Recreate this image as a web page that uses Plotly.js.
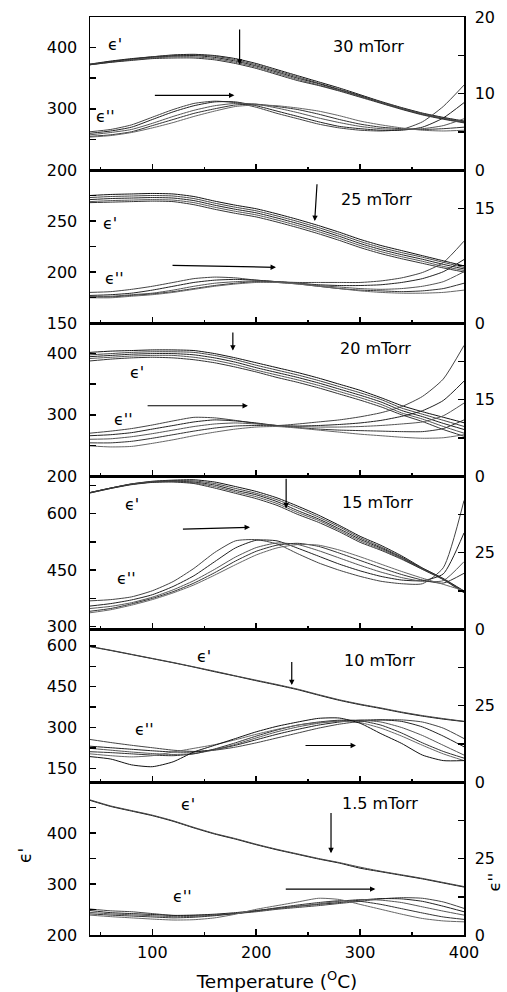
<!DOCTYPE html>
<html><head><meta charset="utf-8">
<script src="https://cdn.plot.ly/plotly-3.0.1.min.js"></script>
<style>html,body{margin:0;padding:0;background:#fff}</style>
</head><body>
<div id="chart" style="width:507px;height:992px"></div>
<script>
// Temperature grid (°C)
const T = [40,60,80,100,120,140,160,180,200,220,240,260,280,300,320,340,360,380,400];

// 30 mTorr
const re30 = [
 [373,378,382,385,388,389,387,382,374,364,354,344,334,323,312,302,293,286,280],
 [373,377,381,385,387,388,386,380,372,362,352,342,332,322,311,301,292,285,279],
 [372,377,381,384,386,387,384,378,370,360,350,341,331,321,310,300,291,284,278],
 [372,376,380,383,385,385,382,376,368,358,348,339,330,320,310,300,291,284,278],
 [372,376,379,382,383,383,380,374,366,356,346,338,329,319,309,299,290,283,277]
];
const im30 = [
 [5.0,5.3,5.9,6.9,7.9,8.7,9.0,8.8,8.2,7.4,6.7,6.0,5.5,5.2,5.1,5.3,6.3,8.3,11.1],
 [4.8,5.1,5.6,6.6,7.6,8.4,8.9,8.9,8.4,7.7,7.0,6.3,5.7,5.4,5.2,5.2,5.6,6.8,8.8],
 [4.6,4.9,5.3,6.1,7.0,7.8,8.4,8.7,8.6,8.1,7.5,6.8,6.2,5.7,5.4,5.3,5.4,5.8,6.7],
 [4.4,4.6,5.0,5.8,6.6,7.4,8.0,8.5,8.6,8.3,7.9,7.3,6.6,6.0,5.6,5.4,5.3,5.4,5.6],
 [4.3,4.5,4.9,5.5,6.2,7.0,7.7,8.3,8.5,8.4,8.1,7.7,7.1,6.4,5.9,5.5,5.2,5.1,5.2]
];
// 25 mTorr
const re25 = [
 [275,276,276.5,277,276.5,274,269.5,265.5,262,257,251.5,245.5,239,232,226,221,216,211,206],
 [273,274,274.5,275,274.5,272,267.5,263.5,260,255,249.5,243.5,237,230,224,219,214.5,209.5,204.5],
 [271,272,272.5,273,272.5,270,265.5,261.5,258,253,247.5,241.5,235,228,222,217,212.5,207.5,203],
 [269,270,270.5,271,270.5,268,263.5,259.5,256,251,245.5,239.5,233,226,220,215,210.5,205.5,201.5],
 [268,268.5,269,269.5,269,266,261.5,257.5,254,249,243.5,237.5,231,224,218,213,208.5,204,200]
];
const im25 = [
 [4.0,4.1,4.4,4.8,5.3,5.8,6.0,5.9,5.6,5.4,5.3,5.3,5.3,5.3,5.5,5.9,6.6,7.9,10.7],
 [3.6,3.7,3.9,4.3,4.8,5.3,5.6,5.7,5.6,5.4,5.2,5.0,4.9,4.9,5.0,5.3,5.8,6.7,8.3],
 [3.5,3.5,3.7,3.9,4.3,4.8,5.2,5.4,5.5,5.4,5.2,4.9,4.7,4.5,4.4,4.5,4.8,5.4,6.7],
 [3.4,3.4,3.6,3.8,4.1,4.5,4.9,5.2,5.4,5.3,5.1,4.8,4.5,4.3,4.2,4.1,4.2,4.5,5.2],
 [3.3,3.3,3.5,3.7,4.0,4.4,4.8,5.1,5.3,5.3,5.1,4.8,4.5,4.2,4.0,3.9,3.9,4.0,4.3]
];
// 20 mTorr
const re20 = [
 [402,404,405,406,406,405,400,393,385,377,369,360,350,340,328,315,305,296,287],
 [398,400,402,403,403,402,397,390,381,373,365,356,346,336,325,311,301,291,281],
 [395,397,399,400,400,398,393,386,377,369,361,352,342,332,321,307,297,286,276],
 [392,394,396,397,397,394,389,382,373,365,357,348,338,328,317,303,293,281,270],
 [388,391,393,394,393,390,385,378,370,361,353,344,334,324,313,300,289,276,265]
];
const im20 = [
 [8.4,8.8,9.3,10.0,10.8,11.5,11.4,10.9,10.3,9.9,10.2,10.6,11.0,11.6,12.4,13.6,15.6,19.0,25.6],
 [7.9,8.1,8.5,9.2,9.9,10.6,11.0,10.8,10.4,9.9,9.8,9.9,10.1,10.4,10.9,11.7,12.8,14.8,18.6],
 [7.2,7.3,7.7,8.3,9.0,9.7,10.2,10.4,10.2,9.9,9.7,9.6,9.6,9.7,9.9,10.2,10.6,11.8,14.3],
 [6.5,6.5,6.8,7.4,8.1,8.8,9.4,9.8,9.9,9.8,9.5,9.2,9.0,8.9,8.8,8.7,8.7,9.3,11.0],
 [5.9,5.7,5.8,6.4,7.1,7.9,8.6,9.2,9.6,9.7,9.4,9.0,8.6,8.2,7.9,7.6,7.4,7.5,8.1]
];
// 15 mTorr
const re15 = [
 [656,668,679,686,689,690,684,672,659,642,620,596,569,540,516,488,456,428,395],
 [656,668,679,685,688,687,680,667,654,637,615,591,565,536,512,485,455,427,393],
 [656,668,678,684,686,684,676,662,650,632,608,586,560,532,509,483,454,427,392],
 [655,667,678,684,685,682,672,658,645,627,603,582,556,528,506,481,453,426,391],
 [655,667,677,683,684,680,668,654,640,622,598,577,552,524,503,479,452,425,390]
];
const im15 = [
 [9.2,9.6,10.5,12.5,15.5,19.8,25.0,28.8,29.2,27.8,24.6,21.6,19.2,17.2,15.6,14.8,14.8,20.0,42.0],
 [7.5,8.3,9.5,11.2,13.9,17.4,22.0,26.5,29.0,28.8,26.4,23.8,21.2,19.0,17.2,16.0,15.8,18.0,31.4],
 [6.7,7.4,8.6,10.4,12.8,15.8,19.5,23.5,26.6,28.1,27.6,25.6,23.2,20.8,18.6,16.8,15.6,15.8,22.0],
 [5.8,6.7,8.2,10.0,12.2,15.0,18.4,22.2,25.4,27.4,28.0,27.0,24.8,22.4,20.0,17.8,16.0,15.0,18.2],
 [5.3,6.3,7.8,9.6,11.8,14.4,17.6,21.0,24.2,26.5,27.6,27.4,25.8,23.6,21.2,18.8,16.6,14.6,12.5]
];
// 10 mTorr
const re10 = [
 [597,583,568,553,538,522,505,489,472,456,439,419,400,384,370,355,342,331,322],
 [598,584,569,554,539,523,507,490,474,458,441,421,402,386,372,357,344,333,323]
];
const im10 = [
 [13.9,12.9,12.0,11.2,10.4,10.0,10.4,11.4,12.8,14.4,16.0,17.6,18.9,19.8,20.3,20.3,19.6,17.6,14.2],
 [11.7,11.2,10.7,10.2,9.8,9.8,10.6,12.0,13.8,15.6,17.2,18.6,19.6,20.2,20.3,19.8,18.0,15.0,11.5],
 [11.0,10.4,9.8,9.3,9.0,9.3,10.5,12.3,14.4,16.4,18.0,19.2,20.0,20.2,19.6,17.8,15.2,12.0,8.8],
 [9.9,9.6,9.2,8.8,8.6,9.2,10.8,12.8,15.0,17.0,18.6,19.6,20.2,20.0,18.6,16.0,12.8,10.0,7.8],
 [9.2,8.6,8.2,8.6,9.8,11.0,12.2,13.8,15.6,17.2,18.6,19.4,19.8,19.4,17.6,15.0,12.0,9.2,7.0],
 [8.3,7.5,5.6,5.0,6.6,9.8,12.0,14.2,16.4,18.2,19.6,20.8,20.9,19.2,15.8,12.6,8.8,7.0,7.0]
];
// 1.5 mTorr
const re1p5 = [
 [464,452,443,434,423,410,398,388,377,367,358,349,341,331,324,317,310,302,294],
 [465,453,444,435,424,411,399,389,378,368,359,350,342,333,325,318,311,303,295]
];
const im1p5 = [
 [8.5,7.9,7.6,7.0,6.4,6.4,6.6,7.0,7.6,8.4,9.0,9.6,10.3,11.0,11.8,12.2,12.0,10.8,8.7],
 [8.0,7.3,7.0,6.7,6.4,6.5,6.8,7.3,8.0,8.7,9.4,10.0,10.6,11.4,11.9,11.8,11.0,9.4,7.6],
 [7.4,6.9,6.6,6.3,6.0,6.1,6.5,7.0,7.8,8.6,9.4,10.2,11.0,11.6,11.4,10.6,9.2,7.8,6.5],
 [6.9,6.5,6.2,5.9,5.6,5.8,6.3,7.0,7.9,8.9,9.8,10.6,11.2,11.0,10.0,8.6,7.2,5.9,5.1],
 [6.5,6.0,5.6,5.2,4.9,5.0,5.6,6.8,8.4,9.6,10.8,12.0,11.6,10.0,8.4,6.8,5.4,4.6,4.3]
];

// Tick values / labels
const xTicks = [100,200,300,400];
const xMinor = [50,150,250,350];
const pressures = ['30 mTorr','25 mTorr','20 mTorr','15 mTorr','10 mTorr','1.5 mTorr'];
const leftTickVals = [[200,250,300,350,400,450],[150,175,200,225,250,275,300],[200,250,300,350,400,450],[300,375,450,525,600,675],[150,225,300,375,450,525,600],[200,250,300,350,400,450]];
const leftTickText = [['200','','300','','400',''],['150','','200','','250','',''],['200','','300','','400',''],['300','','450','','600',''],['150','','300','','450','','600'],['200','','300','','400','']];
const rightTickVals = [[0,5,10,15,20],[0,7.5,15],[0,7.5,15,22.5],[0,12.5,25,37.5],[0,12.5,25,37.5],[0,12.5,25,37.5]];
const rightTickText = [['0','','10','','20'],['0','','15'],['0','','15',''],['0','','25',''],['0','','25',''],['0','','25','']];
const leftRanges = [[200,450],[150,300],[200,450],[294,700],[100,662],[200,500]];
const rightRanges = [[0,20],[0,20],[0,30],[0,50],[0,50],[0,50]];

const reSets = [re30,re25,re20,re15,re10,re1p5];
const imSets = [im30,im25,im20,im15,im10,im1p5];

// annotation placements (data coordinates of each panel)
const textPos = [
 {re:[64,405], im:[55,288], p:[308,402]},
 {re:[59,248], im:[64,194], p:[316,271]},
 {re:[85,369], im:[72,293], p:[315,408]},
 {re:[80,624], im:[75,428], p:[317,630]},
 {re:[150,561], im:[92,294], p:[319,546]},
 {re:[134,455], im:[129,275], p:[319,457]}
];
const arrowPos = [
 {v:[184,432,184,372], h:[101,322,179,322]},
 {v:[258.6,287.5,256.3,250], h:[118,206.6,219,204.6]},
 {v:[177.5,437,177.5,405], h:[94,314.8,192,314.8]},
 {v:[228.8,697,228.8,614], h:[128,559,194,564]},
 {v:[234.2,546,234.2,456], h:[246,234,296,234]},
 {v:[272,442,272,360.5], h:[227,290,314.7,290]}
];

const FONT = 'DejaVu Sans, Arial, sans-serif';
const traces = [];
const layout = {
  width:507, height:992, autosize:false,
  margin:{l:90, r:43, t:17, b:57},
  paper_bgcolor:'#fff', plot_bgcolor:'#fff',
  showlegend:false,
  font:{family:FONT, size:16, color:'#000'},
  annotations:[]
};
const greys = ['#111','#444','#222','#555','#333','#666'];

for (let i=0;i<6;i++){
  const n = i+1;
  const xid = n===1?'x':'x'+n;
  const yl = n===1?'y':'y'+n;
  const yr = 'y'+(n+6);
  const dom = [(5-i)/6,(6-i)/6];
  reSets[i].forEach((c,k)=>traces.push({x:T,y:c,xaxis:xid,yaxis:yl,mode:'lines',line:{color:greys[k%6],width:1,shape:'spline',smoothing:0.6},hoverinfo:'skip'}));
  imSets[i].forEach((c,k)=>traces.push({x:T,y:c,xaxis:xid,yaxis:yr,mode:'lines',line:{color:greys[(k+1)%6],width:1,shape:'spline',smoothing:0.6},hoverinfo:'skip'}));
  layout['xaxis'+(n===1?'':n)] = {
    domain:[0,1], anchor:yl, range:[40,400], showgrid:false, zeroline:false,
    showline:true, linecolor:'#000', linewidth:1.5, mirror:true,
    ticks:'inside', ticklen:6, tickwidth:1.5, tickcolor:'#000',
    tickvals:xTicks, ticktext:xTicks.map(String), showticklabels:(n===6),
    tickfont:{family:FONT,size:16,color:'#000'}, ticklabelstandoff:2,
    minor:{tickvals:xMinor, ticks:'inside', ticklen:3, tickwidth:1.5, tickcolor:'#000', showgrid:false},
    title: n===6 ? {text:'Temperature (<sup>O</sup>C)', font:{family:FONT,size:18.5,color:'#000'}, standoff:14} : {text:''}
  };
  layout['yaxis'+(n===1?'':n)] = {
    domain:dom, anchor:xid, range:leftRanges[i], showgrid:false, zeroline:false,
    showline:true, linecolor:'#000', linewidth:1.5, mirror:true,
    ticks:'inside', ticklen:6, tickwidth:1.5, tickcolor:'#000',
    tickvals:leftTickVals[i], ticktext:leftTickText[i],
    tickfont:{family:FONT,size:16,color:'#000'}, ticklabelstandoff:8
  };
  layout['yaxis'+(n+6)] = {
    overlaying:yl, side:'right', anchor:xid, range:rightRanges[i], showgrid:false, zeroline:false,
    showline:true, linecolor:'#000', linewidth:1.5,
    ticks:'inside', ticklen:6, tickwidth:1.5, tickcolor:'#000',
    tickvals:rightTickVals[i], ticktext:rightTickText[i],
    tickfont:{family:FONT,size:16,color:'#000'}, ticklabelstandoff:6
  };
  const tp = textPos[i];
  const txt = (s,p)=>({xref:xid,yref:yl,x:p[0],y:p[1],text:s,showarrow:false,font:{family:FONT,size:16,color:'#000'}});
  layout.annotations.push(txt("\u03F5'",tp.re), txt("\u03F5''",tp.im), txt(pressures[i],tp.p));
  const ap = arrowPos[i];
  const arr = a=>({xref:xid,yref:yl,axref:xid,ayref:yl,ax:a[0],ay:a[1],x:a[2],y:a[3],text:'',showarrow:true,arrowhead:2,arrowsize:0.9,arrowwidth:1.2,arrowcolor:'#000',standoff:0,startstandoff:0});
  layout.annotations.push(arr(ap.v), arr(ap.h));
}
// axis symbols
layout.annotations.push({xref:'paper',yref:'paper',x:-0.174,y:0.087,xanchor:'center',yanchor:'middle',text:"\u03F5'",textangle:-90,showarrow:false,font:{family:FONT,size:17,color:'#000'}});
layout.annotations.push({xref:'paper',yref:'paper',x:1.082,y:0.058,xanchor:'center',yanchor:'middle',text:"\u03F5''",textangle:-90,showarrow:false,font:{family:FONT,size:16,color:'#000'}});

Plotly.newPlot('chart', traces, layout, {staticPlot:true, displayModeBar:false});
</script>
</body></html>
